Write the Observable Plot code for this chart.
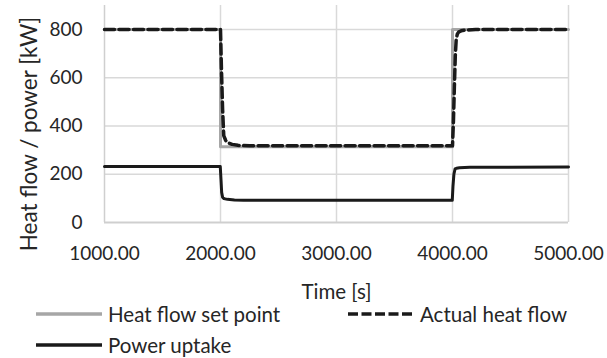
<!DOCTYPE html>
<html>
<head>
<meta charset="utf-8">
<script src="https://cdn.jsdelivr.net/npm/d3@7"></script>
<script src="https://cdn.jsdelivr.net/npm/@observablehq/plot@0.6"></script>
<style>
  html, body { margin: 0; padding: 0; background: #fff; }
  #wrap { position: relative; width: 607px; height: 358px; font-family: Lato, "Open Sans", sans-serif; color: #262626; }
  #legend { position: absolute; left: 0; top: 302px; width: 607px; height: 56px; font-size: 20.5px; }
  .item { position: absolute; display: flex; align-items: center; height: 24px; }
  .item svg { margin-right: 6px; }
</style>
</head>
<body>
<div id="wrap"><div id="chart"></div><div id="legend"></div></div>
<script>
// Time axis ticks [s]
const xTicks = [1000, 2000, 3000, 4000, 5000];
const yTicks = [0, 200, 400, 600, 800];

// Heat flow set point [kW]
const setTime  = [1000, 2000, 2000, 4000, 4000, 5000];
const setValue = [800, 800, 314, 314, 800, 800];

// Actual heat flow [kW]
const actTime  = [1000, 2000, 2008, 2018, 2028, 2045, 2070, 2100, 2150, 2250, 4000, 4008, 4016, 4024, 4032, 4042, 4055, 4075, 4110, 4200, 5000];
const actValue = [800, 800, 640, 470, 360, 340, 330, 324, 320, 318, 318, 420, 560, 690, 760, 782, 791, 795, 798, 800, 800];

// Power uptake [kW]
const powTime  = [1000, 1998, 2004, 2010, 2018, 2030, 2060, 2120, 2200, 3998, 4004, 4012, 4022, 4035, 4060, 4150, 5000];
const powValue = [232, 232, 180, 125, 105, 99, 96, 93, 92, 92, 150, 200, 222, 225, 227, 229, 230];

const setData = setTime.map((t, i) => ({t, v: setValue[i]}));
const actData = actTime.map((t, i) => ({t, v: actValue[i]}));
const powData = powTime.map((t, i) => ({t, v: powValue[i]}));

const grid = "#d9d9d9";
const ink = "#262626";
const chart = Plot.plot({
  width: 607,
  height: 302,
  marginLeft: 104,
  marginRight: 39,
  marginTop: 5,
  marginBottom: 80,
  style: {fontFamily: "Lato, 'Open Sans', sans-serif", fontSize: "19px", color: ink, background: "#fff"},
  x: {domain: [1000, 5000]},
  y: {domain: [0, 900]},
  marks: [
    Plot.gridX(xTicks.slice(1), {stroke: grid, strokeOpacity: 1, strokeWidth: 1.5}),
    Plot.gridY(yTicks.slice(1), {stroke: grid, strokeOpacity: 1, strokeWidth: 1.5}),
    Plot.ruleY([0], {stroke: "#cfcfcf", strokeWidth: 2}),
    Plot.ruleX([1000], {stroke: "#cfcfcf", strokeWidth: 1.5}),
    Plot.axisX(xTicks, {tickSize: 0, tickPadding: 24, tickFormat: d3.format(".2f"), label: null, fontSize: 19, fill: ink}),
    Plot.axisY(yTicks, {anchor: "left", tickSize: 0, tickPadding: 22, label: null, fontSize: 19, fill: ink}),
    Plot.text(["Time [s]"], {frameAnchor: "bottom", dy: 76, fontSize: 20.5, fill: ink}),
    Plot.text(["Heat flow / power [kW]"], {frameAnchor: "left", textAnchor: "middle", rotate: -90, dx: -75, dy: 20, fontSize: 22.5, fill: ink}),
    Plot.line(setData, {x: "t", y: "v", stroke: "#a6a6a6", strokeWidth: 3}),
    Plot.line(actData, {x: "t", y: "v", stroke: "#1a1a1a", strokeWidth: 3.5, strokeDasharray: "10,4.5"}),
    Plot.line(powData, {x: "t", y: "v", stroke: "#1a1a1a", strokeWidth: 3})
  ]
});
document.getElementById("chart").appendChild(chart);

// Legend
const legendItems = [
  {label: "Heat flow set point", color: "#a6a6a6", dash: null, left: 36, top: 0},
  {label: "Actual heat flow", color: "#1a1a1a", dash: "10,3.5", left: 348, top: 0},
  {label: "Power uptake", color: "#1a1a1a", dash: null, left: 36, top: 31}
];
const legend = document.getElementById("legend");
for (const it of legendItems) {
  const d = document.createElement("div");
  d.className = "item";
  d.style.left = it.left + "px";
  d.style.top = it.top + "px";
  d.innerHTML = `<svg width="66" height="6"><line x1="0" x2="66" y1="3" y2="3" stroke="${it.color}" stroke-width="3.5" ${it.dash ? `stroke-dasharray="${it.dash}"` : ""}/></svg><span>${it.label}</span>`;
  legend.appendChild(d);
}
</script>
</body>
</html>
